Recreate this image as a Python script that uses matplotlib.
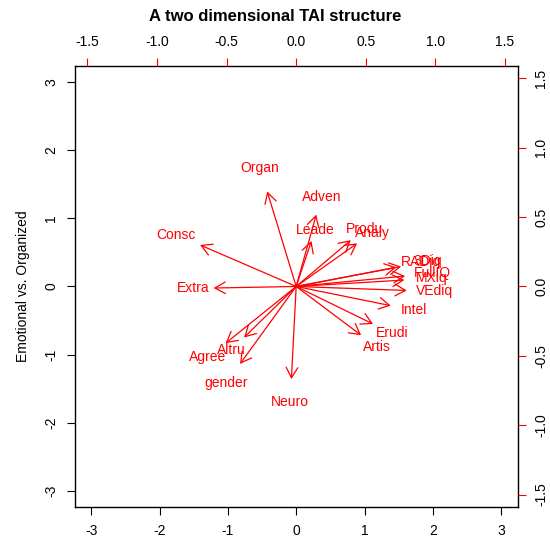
import matplotlib
matplotlib.use('Agg')
import matplotlib.pyplot as plt
import numpy as np

plt.rcParams['font.family'] = ['Liberation Sans', 'DejaVu Sans']

# variable loadings (label positions, variable scale), arrows drawn to 0.8 of these
variables = ['Organ', 'Adven', 'Leade', 'Produ', 'Analy', 'Consc', 'Extra',
             'RADiq', '3Diq', 'FullIQ', 'MXiq', 'VEdiq', 'Intel', 'Erudi',
             'Artis', 'Altru', 'Agree', 'gender', 'Neuro']
load_x = [-0.26, 0.18, 0.137, 0.49, 0.547, -0.863, -0.741,
          0.899, 0.942, 0.978, 0.971, 0.993, 0.849, 0.69,
          0.583, -0.468, -0.633, -0.504, -0.043]
load_y = [0.856, 0.647, 0.41, 0.417, 0.388, 0.374, -0.014,
          0.173, 0.18, 0.094, 0.058, -0.036, -0.173, -0.338,
          -0.439, -0.46, -0.511, -0.698, -0.835]

obs_lim = 3.24
var_lim = 1.59
obs_ticks = [-3, -2, -1, 0, 1, 2, 3]
var_ticks = [-1.5, -1.0, -0.5, 0.0, 0.5, 1.0, 1.5]

fig = plt.figure(figsize=(5.5, 5.4), dpi=100)
rect = [0.136, 0.061, 0.805, 0.817]
ax = fig.add_axes(rect)
ax.set_xlim(-obs_lim, obs_lim)
ax.set_ylim(-obs_lim, obs_lim)
ax.set_xticks(obs_ticks)
ax.set_yticks(obs_ticks)
ax.set_xticklabels([str(t) for t in obs_ticks])
ax.set_yticklabels([str(t) for t in obs_ticks], rotation=90, va='center')
ax.tick_params(direction='out', length=6, labelsize=10, pad=6)
ax.set_ylabel('Emotional vs. Organized', fontsize=10, labelpad=10)
for s in ax.spines.values():
    s.set_color('black')
    s.set_linewidth(1.0)

# variable scale axes (top / right)
av = fig.add_axes(rect, frameon=False)
av.set_xlim(-var_lim, var_lim)
av.set_ylim(-var_lim, var_lim)
av.xaxis.tick_top()
av.yaxis.tick_right()
av.set_xticks(var_ticks)
av.set_yticks(var_ticks)
av.set_xticklabels(['%.1f' % t for t in var_ticks])
av.set_yticklabels(['%.1f' % t for t in var_ticks], rotation=90, va='center')
av.tick_params(direction='out', length=6, labelsize=10, pad=6, color='red')

for name, lx, ly in zip(variables, load_x, load_y):
    av.annotate('', xy=(0.8 * lx, 0.8 * ly), xytext=(0, 0),
                arrowprops=dict(arrowstyle='->,head_length=0.75,head_width=0.42',
                                color='red', lw=0.9, shrinkA=0, shrinkB=0))
    av.text(lx, ly, name, color='red', fontsize=10, ha='center', va='center')

fig.suptitle('A two dimensional TAI structure', fontsize=12, fontweight='bold', y=0.983)

fig.savefig('out.png', dpi=100)
